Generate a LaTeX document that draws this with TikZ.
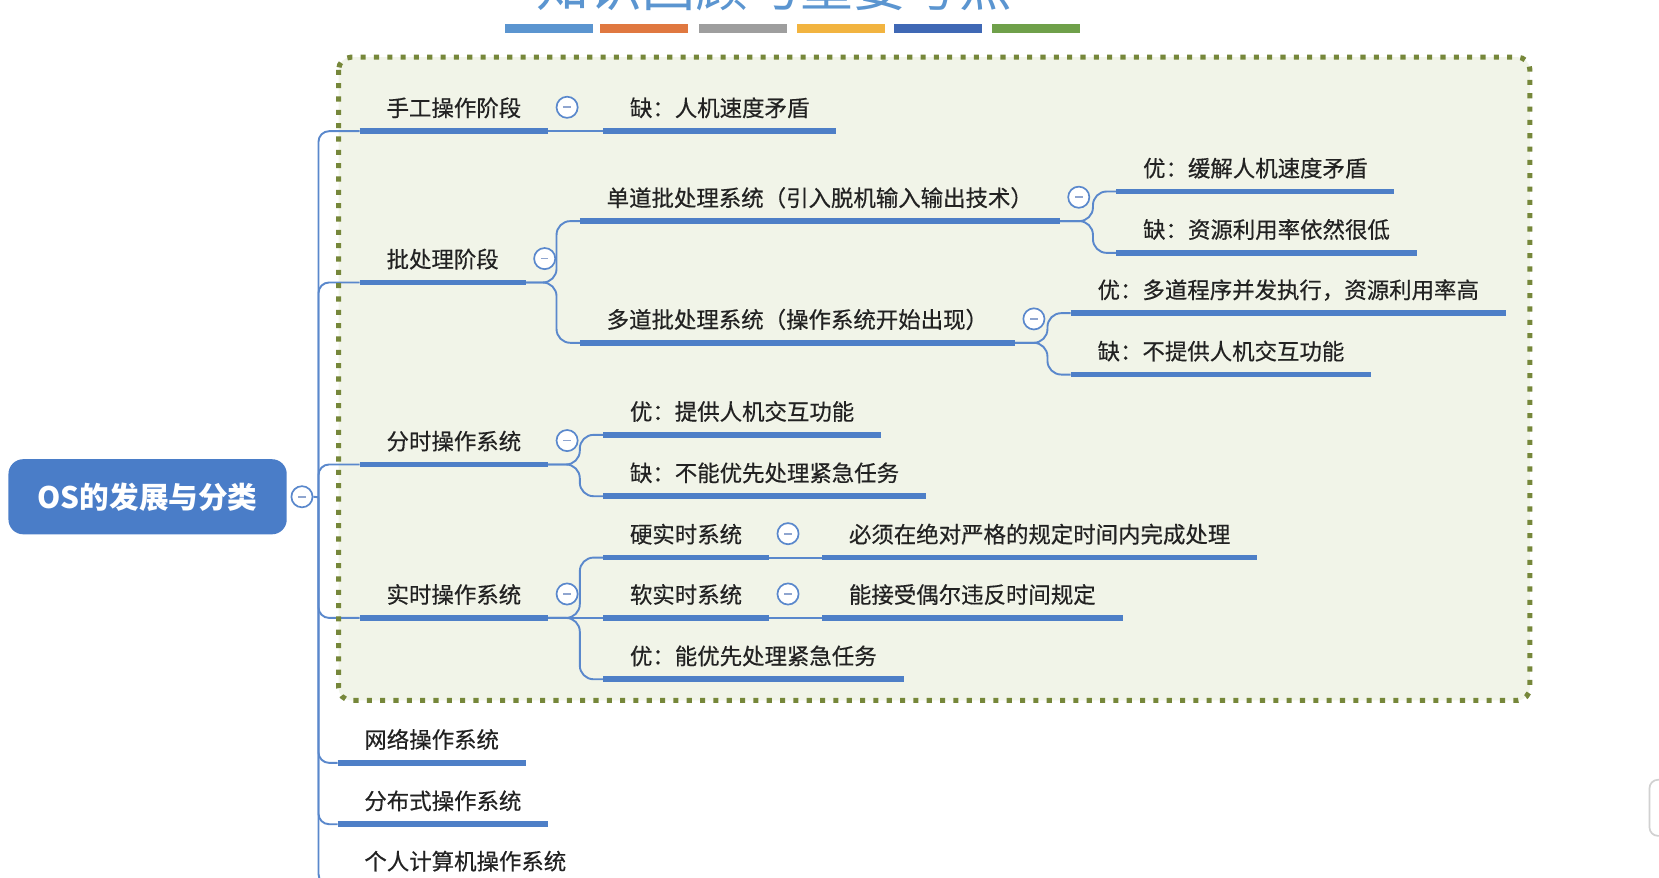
\documentclass[tikz,border=0pt]{standalone}
\usepackage{fontspec}
\setmainfont{Noto Sans CJK SC}
\newfontfamily\topicfont{Noto Sans CJK SC}[FakeBold=0.45]
\definecolor{ul}{HTML}{4E7FC7}
\definecolor{cn}{HTML}{5A88CC}
\definecolor{txt}{HTML}{222222}
\definecolor{rootblue}{HTML}{4A7DC8}
\definecolor{boxfill}{HTML}{F1F4E8}
\definecolor{boxdot}{HTML}{76873A}
\definecolor{titleblue}{HTML}{5B95D0}
\definecolor{barA}{HTML}{5B95D0}
\definecolor{barB}{HTML}{E07840}
\definecolor{barC}{HTML}{9E9E9E}
\definecolor{barD}{HTML}{F2B440}
\definecolor{barE}{HTML}{3F68B5}
\definecolor{barF}{HTML}{6FA04A}
\definecolor{minusc}{HTML}{8FA5CF}
\begin{document}
\begin{tikzpicture}[x=0.5pt,y=-0.5pt,
  topic/.style={anchor=south west, inner xsep=12.5pt, inner ysep=0pt,
    text height=9pt, text depth=6.8pt, text=txt,
    font=\topicfont\fontsize{10.6}{12}\selectfont},
  uline/.style={draw=ul, line width=2.7pt},
  conn/.style={draw=cn, line width=0.9pt},
  fork/.style={conn, rounded corners=6.5pt},
  trunkline/.style={conn, rounded corners=5pt},
  collapse/.style={circle, draw=cn, line width=0.8pt, fill=white,
    minimum size=10pt, inner sep=0pt,
    path picture={\draw[minusc, line width=0.8pt]
      ([xshift=-1.8pt]path picture bounding box.center) --
      ([xshift=1.8pt]path picture bounding box.center);}},
  rootnode/.style={fill=rootblue, rounded corners=7pt, minimum width=131.5pt,
    minimum height=35.5pt, text=white, inner sep=0pt,
    font=\fontsize{14}{16}\selectfont\bfseries},
  titletext/.style={text=titleblue, inner sep=0pt,
    font=\fontsize{25}{28}\selectfont}
]
\useasboundingbox (0,0) rectangle (1568,829);
\fill[white] (0,0) rectangle (1568,829);

% title (cut off at top, as in the reference) and colour bars
\node[titletext, anchor=base] (title) at (732,6) {知识回顾与重要考点};
\foreach \x/\c in {477/barA,567/barB,661/barC,753/barD,845/barE,938/barF}
  \fill[\c] (\x,23) rectangle ++(83,8);

% dotted frame fill
\fill[boxfill, rounded corners=6pt] (320,54) rectangle (1446,662);

% root
\node[rootnode] (root) at (139.5,469.5) {OS的发展与分类};
\node[collapse] (kr) at ([xshift=7pt]root.east) {};
\coordinate (trunk) at (301,470);

% level 1
\node[topic] (n1) at (340,124) {手工操作阶段};
\node[topic] (n2) at (340,267) {批处理阶段};
\node[topic] (n3) at (340,439) {分时操作系统};
\node[topic] (n4) at (340,584) {实时操作系统};
\node[topic] (n5) at (319,721) {网络操作系统};
\node[topic] (n6) at (319,779) {分布式操作系统};
\node[topic] (n7) at (319,836) {个人计算机操作系统};

% level 2
\node[topic] (a1) at (570,124) {缺：人机速度矛盾};
\node[topic] (b1) at (548,209) {单道批处理系统（引入脱机输入输出技术）};
\node[topic] (b2) at (548,324) {多道批处理系统（操作系统开始出现）};
\node[topic] (c1) at (570,411) {优：提供人机交互功能};
\node[topic] (c2) at (570,469) {缺：不能优先处理紧急任务};
\node[topic] (d1) at (570,527) {硬实时系统};
\node[topic] (d2) at (570,584) {软实时系统};
\node[topic] (d3) at (570,642) {优：能优先处理紧急任务};

% level 3
\node[topic] (b11) at (1055,181) {优：缓解人机速度矛盾};
\node[topic] (b12) at (1055,239) {缺：资源利用率依然很低};
\node[topic] (b21) at (1012,296) {优：多道程序并发执行，资源利用率高};
\node[topic] (b22) at (1012,354) {缺：不提供人机交互功能};
\node[topic] (d11) at (777,527) {必须在绝对严格的规定时间内完成处理};
\node[topic] (d21) at (777,584) {能接受偶尔违反时间规定};

% connectors
\draw[conn] (kr.east) -- (trunk);
\foreach \n in {n1,n2,n3,n4,n5,n6,n7}
  \draw[trunkline] (trunk) |- (\n.south west);
\draw[conn] (n1.south east) -- (a1.south west);
\foreach \p/\c in {n2/b1,n2/b2,n3/c1,n3/c2,n4/d1,n4/d3,b1/b11,b1/b12,b2/b21,b2/b22}
  \draw[fork] (\p.south east) -| ([xshift=-11pt]\c.south west) -- (\c.south west);
\draw[conn] (n4.south east) -- (d2.south west);
\draw[conn] (d1.south east) -- (d11.south west);
\draw[conn] (d2.south east) -- (d21.south west);

% underlines
\foreach \n in {n1,n2,n3,n4,n5,n6,n7,a1,b1,b2,c1,c2,d1,d2,d3,b11,b12,b21,b22,d11,d21}
  \draw[uline] (\n.south west) -- (\n.south east);

% collapse markers
\foreach \n in {n1,n2,n3,n4,b1,b2,d1,d2}
  \node[collapse] (k\n) at ([xshift=9pt,yshift=11.3pt]\n.south east) {};

% dotted frame border
\draw[boxdot, line width=2.4pt, dash pattern=on 2.4pt off 3.9pt, rounded corners=6pt]
  (320,54) rectangle (1446,662);

% side widget at right edge
\draw[black!18, line width=0.8pt, fill=white, rounded corners=4pt] (1559,737) rectangle (1585,790);
\end{tikzpicture}
\end{document}
